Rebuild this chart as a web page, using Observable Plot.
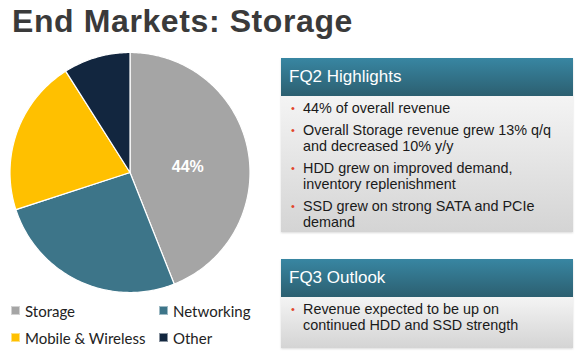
<!DOCTYPE html>
<html>
<head>
<meta charset="utf-8">
<script src="https://cdn.jsdelivr.net/npm/d3@7"></script>
<script src="https://cdn.jsdelivr.net/npm/@observablehq/plot@0.6"></script>
<style>
  html, body { margin: 0; padding: 0; background: #ffffff; }
  body { width: 579px; height: 358px; position: relative; overflow: hidden; font-family: "Liberation Sans", Arial, sans-serif; }
  #title { position: absolute; left: 12px; top: 5px; font-size: 32px; letter-spacing: 0.6px; line-height: 1; font-weight: bold; color: #3a3a3a; white-space: nowrap; }
  #pie { position: absolute; left: 0; top: 40px; }
  .legend-item { position: absolute; font-family: Lato, "Open Sans", sans-serif; font-size: 15px; color: #222; line-height: 18px; white-space: nowrap; }
  .legend-item .sw { position: absolute; left: 0; top: 4px; width: 9px; height: 9px; border: 1px solid rgba(255,255,255,0.5); box-sizing: border-box; }
  .legend-item span.lbl { padding-left: 14px; }
  .box { position: absolute; left: 281px; width: 292px; box-shadow: 0 1px 2px rgba(0,0,0,0.15); }
  .box .hdr { height: 38px; line-height: 38px; padding-left: 8px; color: #ffffff; font-size: 17px; background: linear-gradient(#3886a2, #2c5f70); }
  .box .body { background: linear-gradient(#f4f4f4, #d4d4d4); padding: 4px 12px 6px 22px; color: #1a1a1a; font-size: 14.4px; line-height: 16px; }
  .box .item { position: relative; margin-bottom: 6px; }
  .box .item:last-child { margin-bottom: 0; }
  .box .item::before { content: "•"; position: absolute; left: -12px; top: 0; color: #e2442b; font-size: 11px; }
</style>
</head>
<body>
<div id="title">End Markets: Storage</div>
<div id="pie"></div>
<div id="legend"></div>
<div class="box" id="box1" style="top:58px;height:174px;">
  <div class="hdr"></div>
  <div class="body"></div>
</div>
<div class="box" id="box2" style="top:259px;height:89px;">
  <div class="hdr"></div>
  <div class="body"></div>
</div>
<script>
// ---- Data ----
const categories = ["Storage", "Networking", "Mobile & Wireless", "Other"];
const shares = [44, 26, 21, 9];
const sliceColors = ["#a5a5a5", "#3d7589", "#ffc000", "#12263f"];
const labelledCategory = "Storage";
const highlightsTitle = "FQ2 Highlights";
const highlights = [
  "44% of overall revenue",
  "Overall Storage revenue grew 13% q/q and decreased 10% y/y",
  "HDD grew on improved demand, inventory replenishment",
  "SSD grew on strong SATA and PCIe demand"
];
const outlookTitle = "FQ3 Outlook";
const outlook = [
  "Revenue expected to be up on continued HDD and SSD strength"
];

// ---- Pie geometry from data (angles clockwise from 12 o'clock) ----
const total = d3.sum(shares);
const piePoints = [];
const labels = [];
let acc = 0;
categories.forEach((cat, i) => {
  const a0 = acc / total * 2 * Math.PI;
  acc += shares[i];
  const a1 = acc / total * 2 * Math.PI;
  piePoints.push({cat, x: 0, y: 0});
  const steps = Math.max(2, Math.ceil((a1 - a0) / (Math.PI / 180)));
  for (let s = 0; s <= steps; s++) {
    const a = a0 + (a1 - a0) * s / steps;
    piePoints.push({cat, x: Math.sin(a), y: Math.cos(a)});
  }
  piePoints.push({cat, x: 0, y: 0});
  if (cat === labelledCategory) {
    const am = (a0 + a1) / 2;
    labels.push({cat, x: 0.49 * Math.sin(am), y: 0.49 * Math.cos(am), text: shares[i] + "%"});
  }
});

const chart = Plot.plot({
  width: 260,
  height: 262,
  x: {domain: [-1, 1], range: [9.5, 249.5], axis: null},
  y: {domain: [-1, 1], range: [252, 12], axis: null},
  color: {domain: categories, range: sliceColors},
  style: {background: "transparent"},
  marks: [
    Plot.line(piePoints, {x: "x", y: "y", z: "cat", fill: "cat", stroke: "white", strokeWidth: 1.2, strokeLinejoin: "round", curve: "linear"}),
    Plot.text(labels, {x: "x", y: "y", text: "text", fill: "white", fontSize: 16, fontWeight: "bold", fontFamily: "Liberation Sans, Arial, sans-serif", dy: 5})
  ]
});
document.getElementById("pie").appendChild(chart);

// ---- Legend (two columns) ----
const legend = document.getElementById("legend");
const legendPos = [[11, 302], [159, 302], [11, 329], [159, 329]];
categories.forEach((cat, i) => {
  const d = document.createElement("div");
  d.className = "legend-item";
  d.style.left = legendPos[i][0] + "px";
  d.style.top = legendPos[i][1] + "px";
  const sw = document.createElement("div");
  sw.className = "sw";
  sw.style.background = sliceColors[i];
  const t = document.createElement("span");
  t.className = "lbl";
  t.textContent = cat;
  d.appendChild(sw);
  d.appendChild(t);
  legend.appendChild(d);
});

// ---- Text boxes ----
function fillBox(id, title, items) {
  const box = document.getElementById(id);
  box.querySelector(".hdr").textContent = title;
  const body = box.querySelector(".body");
  body.style.height = (box.offsetHeight - 38) + "px";
  body.style.boxSizing = "border-box";
  items.forEach(txt => {
    const it = document.createElement("div");
    it.className = "item";
    it.textContent = txt;
    body.appendChild(it);
  });
}
fillBox("box1", highlightsTitle, highlights);
fillBox("box2", outlookTitle, outlook);
</script>
</body>
</html>
